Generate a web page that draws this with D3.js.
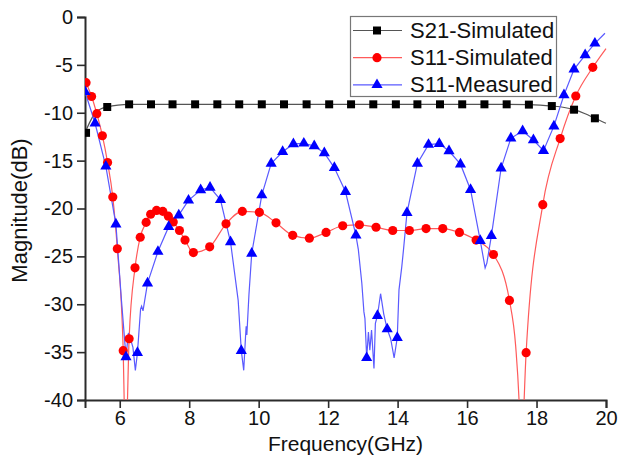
<!DOCTYPE html>
<html>
<head>
<meta charset="utf-8">
<script src="https://cdn.jsdelivr.net/npm/d3@7"></script>
<style>
  html, body { margin: 0; padding: 0; background: #fff; }
  svg { display: block; font-family: "Liberation Sans", Arial, sans-serif; }
</style>
</head>
<body>
<svg id="chart" width="619" height="459"></svg>
<script>
// ---------- data ----------
const xTicks = [6, 8, 10, 12, 14, 16, 18, 20];
const xMinorTicks = [5, 7, 9, 11, 13, 15, 17, 19];
const yTicks = [0, -5, -10, -15, -20, -25, -30, -35, -40];
const yMinorTicks = [-2.5, -7.5, -12.5, -17.5, -22.5, -27.5, -32.5, -37.5];
const seriesNames = ["S21-Simulated", "S11-Simulated", "S11-Measured"];

// S21 simulated: curve points and marker points
const s21Line = [[5.0,-12.1],[5.15,-10.9],[5.3,-10.0],[5.45,-9.6],[5.64,-9.4],[5.95,-9.2],[6.27,-9.12],[6.9,-9.12],[7.52,-9.12],[8.17,-9.12],[8.81,-9.12],[9.44,-9.12],[10.09,-9.12],[10.73,-9.12],[11.38,-9.12],[12.03,-9.12],[12.66,-9.12],[13.3,-9.12],[13.95,-9.12],[14.57,-9.12],[15.22,-9.12],[15.86,-9.12],[16.5,-9.12],[17.14,-9.12],[17.78,-9.15],[18.44,-9.3],[18.8,-9.45],[19.08,-9.68],[19.4,-10.1],[19.68,-10.58],[20.0,-11.1]];
const s21Markers = [[5.03,-12.1],[5.64,-9.4],[6.27,-9.12],[6.9,-9.12],[7.52,-9.12],[8.17,-9.12],[8.81,-9.12],[9.44,-9.12],[10.09,-9.12],[10.73,-9.12],[11.38,-9.12],[12.03,-9.12],[12.66,-9.12],[13.3,-9.12],[13.95,-9.12],[14.57,-9.12],[15.22,-9.12],[15.86,-9.12],[16.5,-9.12],[17.14,-9.12],[17.78,-9.15],[18.44,-9.3],[19.08,-9.68],[19.68,-10.58]];

// S11 simulated
const s11SimLine = [[5.0,-6.6],[5.03,-6.86],[5.19,-8.3],[5.34,-10.1],[5.5,-12.4],[5.65,-15.2],[5.8,-18.8],[5.93,-24.2],[6.1,-34.85],[6.13,-40.5],[6.17,-48],[6.22,-40.5],[6.27,-33.6],[6.44,-26.2],[6.59,-23.0],[6.76,-21.45],[6.89,-20.6],[7.06,-20.2],[7.24,-20.3],[7.4,-20.8],[7.54,-21.4],[7.72,-22.3],[7.88,-23.3],[8.12,-24.6],[8.59,-24.0],[9.06,-21.6],[9.53,-20.3],[10.02,-20.4],[10.5,-21.5],[10.98,-22.8],[11.46,-23.1],[11.94,-22.5],[12.42,-21.8],[12.9,-21.7],[13.38,-21.96],[13.86,-22.3],[14.34,-22.3],[14.82,-22.1],[15.3,-22.1],[15.78,-22.5],[16.26,-23.3],[16.76,-24.8],[17.22,-29.6],[17.4,-34.4],[17.5,-40.3],[17.57,-48],[17.64,-40.3],[17.7,-35.06],[18.18,-19.6],[18.68,-12.7],[19.13,-8.25],[19.62,-5.26],[20.0,-3.3]];
const s11SimMarkers = [[5.03,-6.86],[5.19,-8.3],[5.34,-10.1],[5.5,-12.4],[5.65,-15.2],[5.8,-18.8],[5.93,-24.2],[6.1,-34.85],[6.27,-33.6],[6.44,-26.2],[6.59,-23.0],[6.76,-21.45],[6.89,-20.6],[7.06,-20.2],[7.24,-20.3],[7.4,-20.8],[7.54,-21.4],[7.72,-22.3],[7.88,-23.3],[8.12,-24.6],[8.59,-24.0],[9.06,-21.6],[9.53,-20.3],[10.02,-20.4],[10.5,-21.5],[10.98,-22.8],[11.46,-23.1],[11.94,-22.5],[12.42,-21.8],[12.9,-21.7],[13.38,-21.96],[13.86,-22.3],[14.34,-22.3],[14.82,-22.1],[15.3,-22.1],[15.78,-22.5],[16.26,-23.3],[16.76,-24.8],[17.22,-29.6],[17.7,-35.06],[18.18,-19.6],[18.68,-12.7],[19.13,-8.25],[19.62,-5.26]];

// S11 measured
const s11MeasLine = [[5.0,-7.8],[5.29,-11.1],[5.6,-15.6],[5.89,-21.65],[6.05,-29.6],[6.18,-35.5],[6.25,-33.0],[6.3,-33.5],[6.38,-34.5],[6.45,-36.9],[6.51,-35.06],[6.6,-30.5],[6.63,-30.2],[6.67,-30.7],[6.8,-27.8],[7.1,-24.5],[7.41,-21.9],[7.7,-20.7],[7.98,-19.15],[8.33,-18.07],[8.6,-17.8],[8.9,-19.1],[9.19,-23.5],[9.41,-29.6],[9.5,-34.85],[9.57,-36.9],[9.62,-33.5],[9.64,-32.3],[9.66,-33.2],[9.72,-29.0],[9.8,-24.7],[10.09,-18.6],[10.36,-15.3],[10.69,-14.07],[11.0,-13.26],[11.3,-13.2],[11.6,-13.47],[11.89,-14.2],[12.18,-15.75],[12.5,-18.25],[12.8,-22.8],[12.87,-24.3],[12.97,-27.8],[13.03,-30.8],[13.06,-31.5],[13.11,-35.6],[13.16,-32.9],[13.2,-34.8],[13.25,-32.7],[13.32,-36.7],[13.36,-32.0],[13.42,-31.2],[13.51,-28.9],[13.6,-31.0],[13.7,-32.6],[13.8,-33.6],[13.9,-35.6],[13.99,-33.5],[14.04,-28.5],[14.12,-26.1],[14.17,-24.3],[14.27,-20.45],[14.57,-15.3],[14.89,-13.33],[15.2,-13.23],[15.48,-14.0],[15.81,-15.37],[16.1,-18.04],[16.38,-23.36],[16.52,-26.2],[16.57,-25.7],[16.7,-22.85],[16.98,-15.8],[17.26,-12.67],[17.6,-11.9],[17.91,-12.85],[18.2,-13.96],[18.5,-11.4],[18.79,-8.15],[19.08,-5.46],[19.4,-3.97],[19.68,-2.75],[19.97,-1.7]];
const s11MeasMarkers = [[5.0,-7.8],[5.29,-11.1],[5.6,-15.6],[5.89,-21.65],[6.18,-35.5],[6.51,-35.06],[6.8,-27.8],[7.1,-24.5],[7.41,-21.9],[7.7,-20.7],[7.98,-19.15],[8.33,-18.07],[8.6,-17.8],[8.9,-19.1],[9.19,-23.5],[9.5,-34.85],[9.8,-24.7],[10.09,-18.6],[10.36,-15.3],[10.69,-14.07],[11.0,-13.26],[11.3,-13.2],[11.6,-13.47],[11.89,-14.2],[12.18,-15.75],[12.5,-18.25],[12.8,-22.8],[13.11,-35.6],[13.42,-31.2],[13.7,-32.6],[13.99,-33.5],[14.27,-20.45],[14.57,-15.3],[14.89,-13.33],[15.2,-13.23],[15.48,-14.0],[15.81,-15.37],[16.1,-18.04],[16.38,-23.36],[16.7,-22.85],[16.98,-15.8],[17.26,-12.67],[17.6,-11.9],[17.91,-12.85],[18.2,-13.96],[18.5,-11.4],[18.79,-8.15],[19.08,-5.46],[19.4,-3.97],[19.68,-2.75]];

// ---------- layout ----------
const margin = { left: 85, right: 13, top: 17, bottom: 59 };
const W = 619, H = 459;
const svg = d3.select("#chart");
const x = d3.scaleLinear().domain([5, 20]).range([margin.left, W - margin.right]);
const y = d3.scaleLinear().domain([-40, 0]).range([H - margin.bottom, margin.top]);

svg.append("defs").append("clipPath").attr("id", "plotClip")
  .append("rect")
  .attr("x", x(5)).attr("y", y(0) - 6)
  .attr("width", x(20) - x(5) + 6).attr("height", y(-40) - y(0) + 6);

const axisColor = "#2b2b2b";
const fontSize = 20;

// x axis
const gx = svg.append("g").attr("transform", `translate(0,${y(-40)})`);
gx.call(d3.axisBottom(x).tickValues(xMinorTicks).tickSize(5).tickFormat(""));
gx.call(d3.axisBottom(x).tickValues(xTicks).tickSize(8).tickPadding(3).tickFormat(d3.format("d")));
gx.selectAll(".domain").attr("stroke", axisColor).attr("stroke-width", 2);
gx.selectAll(".tick line").attr("stroke", axisColor).attr("stroke-width", 1.6);
gx.selectAll(".tick text").attr("fill", "#111").style("font-size", fontSize + "px")
  .style("font-family", '"Liberation Sans", Arial, sans-serif');

// y axis
const gy = svg.append("g").attr("transform", `translate(${x(5)},0)`);
gy.call(d3.axisLeft(y).tickValues(yMinorTicks).tickSize(5).tickFormat(""));
gy.call(d3.axisLeft(y).tickValues(yTicks).tickSize(8).tickPadding(4).tickFormat(d3.format("d")));
gy.selectAll(".domain").attr("stroke", axisColor).attr("stroke-width", 2);
gy.selectAll(".tick line").attr("stroke", axisColor).attr("stroke-width", 1.6);
gy.selectAll(".tick text").attr("fill", "#111").style("font-size", fontSize + "px")
  .style("font-family", '"Liberation Sans", Arial, sans-serif');
gy.selectAll(".tick text").text(d => String(d).replace("\u2212", "-"));

// axis titles
svg.append("text")
  .attr("x", (x(5) + x(20)) / 2).attr("y", 451)
  .attr("text-anchor", "middle").attr("fill", "#111")
  .style("font-size", "21px").text("Frequency(GHz)");
svg.append("text")
  .attr("transform", `translate(27,${(y(0) + y(-40)) / 2 + 2}) rotate(-90)`)
  .attr("text-anchor", "middle").attr("fill", "#111")
  .style("font-size", "22px").text("Magnitude(dB)");

// ---------- series ----------
const plot = svg.append("g").attr("clip-path", "url(#plotClip)");

const lineSmooth = d3.line().x(d => x(d[0])).y(d => y(d[1])).curve(d3.curveMonotoneX);
const lineStraight = d3.line().x(d => x(d[0])).y(d => y(d[1])).curve(d3.curveLinear);

const styles = [
  { name: seriesNames[0], line: s21Line, markers: s21Markers, gen: lineSmooth, lineColor: "#555", color: "#000", symbol: d3.symbolSquare, size: 64 },
  { name: seriesNames[1], line: s11SimLine, markers: s11SimMarkers, gen: lineSmooth, lineColor: "#ff5a5a", color: "#ff0000", symbol: d3.symbolCircle, size: 66 },
  { name: seriesNames[2], line: s11MeasLine, markers: s11MeasMarkers, gen: lineStraight, lineColor: "#5a5aff", color: "#0000ff", symbol: d3.symbolTriangle, size: 54 }
];

styles.forEach(s => {
  plot.append("path").datum(s.line)
    .attr("d", s.gen).attr("fill", "none")
    .attr("stroke", s.lineColor).attr("stroke-width", 1.2);
});
styles.forEach(s => {
  plot.selectAll(null).data(s.markers).enter().append("path")
    .attr("transform", d => `translate(${x(d[0])},${y(d[1])})`)
    .attr("d", d3.symbol().type(s.symbol).size(s.size))
    .attr("fill", s.color);
});

// ---------- legend ----------
const lg = svg.append("g");
lg.append("rect").attr("x", 350.5).attr("y", 16.5).attr("width", 206).attr("height", 80)
  .attr("fill", "#fff").attr("stroke", "#777").attr("stroke-width", 1.2);
styles.forEach((s, i) => {
  const cy = 30.5 + i * 27.2;
  lg.append("line").attr("x1", 353).attr("x2", 402).attr("y1", cy).attr("y2", cy)
    .attr("stroke", s.lineColor).attr("stroke-width", 1.2);
  lg.append("path").attr("transform", `translate(377,${cy})`)
    .attr("d", d3.symbol().type(s.symbol).size(s.size)).attr("fill", s.color);
  lg.append("text").attr("x", 410).attr("y", cy + 7.5)
    .attr("fill", "#111").style("font-size", "22px").text(s.name);
});
</script>
</body>
</html>
